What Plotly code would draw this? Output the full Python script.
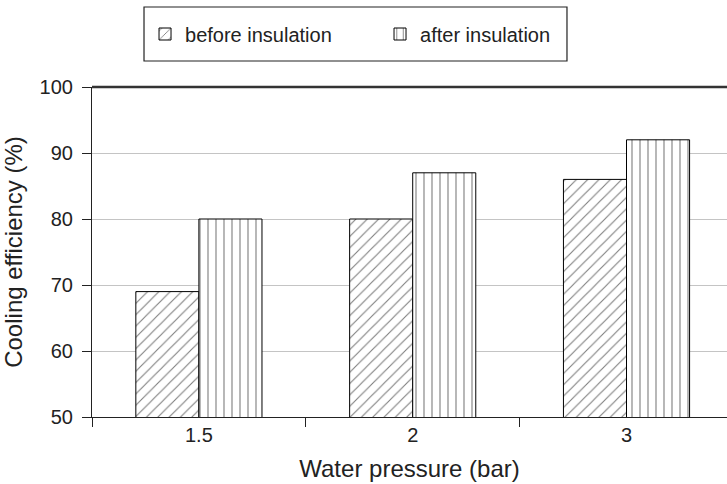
import plotly.graph_objects as go

# Water pressure categories and cooling efficiency (%)
pressures = ["1.5", "2", "3"]
before_insulation = [69, 80, 86]
after_insulation = [80, 87, 92]
y_ticks = [50, 60, 70, 80, 90, 100]

FONT = "Liberation Sans, Arial, Helvetica, sans-serif"
INK = "#222"
positions = list(range(len(pressures)))

fig = go.Figure()
fig.add_trace(go.Bar(
    x=positions, y=before_insulation, name="before insulation",
    marker=dict(color="white", line=dict(color="black", width=1),
                pattern=dict(shape="/", fgcolor="black", bgcolor="white",
                             size=8, solidity=0.14)),
))
fig.add_trace(go.Bar(
    x=positions, y=after_insulation, name="after insulation",
    marker=dict(color="white", line=dict(color="black", width=1),
                pattern=dict(shape="|", fgcolor="black", bgcolor="white",
                             size=8, solidity=0.14)),
))
# invisible helper trace so the divider-tick axis is drawn
fig.add_trace(go.Scatter(x=[-0.5], y=[50], xaxis="x2", mode="markers",
                         marker=dict(opacity=0), showlegend=False,
                         hoverinfo="skip"))

xrange = [-0.5, 2.47]
fig.update_layout(
    width=727, height=484,
    margin=dict(l=92, r=0, t=87, b=67),
    paper_bgcolor="white", plot_bgcolor="white",
    font=dict(family=FONT, size=20, color=INK),
    barmode="group", bargap=0.41, bargroupgap=0,
    xaxis=dict(range=xrange, tickvals=positions, ticktext=pressures,
               ticks="", showgrid=False, zeroline=False,
               showline=True, linecolor=INK, linewidth=1.2,
               title=dict(text="Water pressure (bar)", standoff=15),
               tickfont=dict(size=20)),
    xaxis2=dict(range=xrange, overlaying="x", side="bottom",
                tickvals=[-0.5, 0.5, 1.5, 2.5], showticklabels=False,
                ticks="outside", ticklen=9, tickcolor=INK, tickwidth=1.2,
                showgrid=False, zeroline=False, showline=False),
    yaxis=dict(range=[50, 100], tickvals=y_ticks, ticks="outside",
               ticklen=9, tickcolor=INK, tickwidth=1.2, ticklabelstandoff=5,
               showgrid=True, gridcolor="#c4c4c4", gridwidth=1,
               zeroline=False, showline=True, linecolor=INK, linewidth=1.2,
               title=dict(text="Cooling efficiency (%)", standoff=10),
               tickfont=dict(size=20)),
    legend=dict(orientation="h", x=0.0835, xanchor="left", y=1.1606,
                yanchor="middle", borderwidth=0, bgcolor="rgba(0,0,0,0)",
                font=dict(size=20), entrywidth=190, itemwidth=30),
    showlegend=True,
)
# dark frame line along the top of the plotting area
fig.add_shape(type="line", xref="paper", yref="paper", x0=0, x1=1, y0=1, y1=1,
              line=dict(color="#333", width=2.5))
# frame around the legend
fig.add_shape(type="rect", xref="paper", yref="paper",
              x0=0.0819, x1=0.748, y0=1.0788, y1=1.2424,
              line=dict(color=INK, width=1.2), fillcolor="rgba(0,0,0,0)")

fig.write_html("out.html")
